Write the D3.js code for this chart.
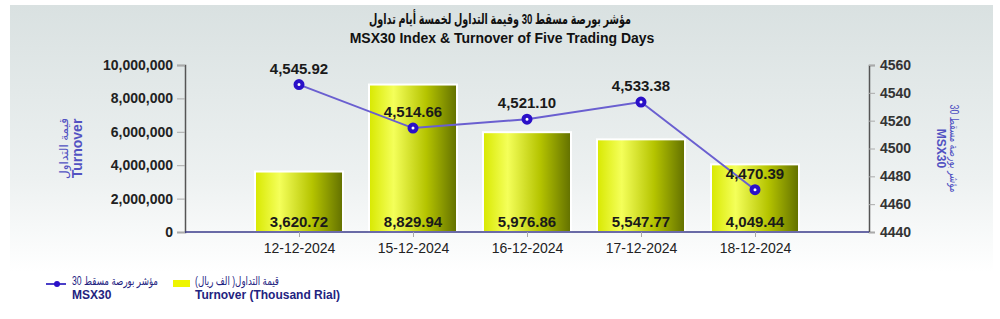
<!DOCTYPE html>
<html>
<head>
<meta charset="utf-8">
<script src="https://cdn.jsdelivr.net/npm/d3@7"></script>
<style>
  body { margin: 0; background: #fff; }
  svg { display: block; font-family: "Liberation Sans", "DejaVu Sans", sans-serif; }
</style>
</head>
<body>
<div class="chart"></div>
<script>
// Données du graphique
const dates = ['12-12-2024', '15-12-2024', '16-12-2024', '17-12-2024', '18-12-2024'];
const turnover = [3620720, 8829940, 5976860, 5547770, 4049440];
const turnoverLabels = ['3,620.72', '8,829.94', '5,976.86', '5,547.77', '4,049.44'];
const msx30 = [4545.92, 4514.66, 4521.10, 4533.38, 4470.39];
const leftTicks = [0, 2000000, 4000000, 6000000, 8000000, 10000000];
const rightTicks = [4440, 4460, 4480, 4500, 4520, 4540, 4560];

const width = 1000;
const height = 319;
const margin = { top: 65, right: 131, bottom: 87, left: 185 };

const svg = d3.select('.chart')
  .append('svg')
  .attr('width', width)
  .attr('height', height);

const defs = svg.append('defs');

// fond dégradé
const bg = defs.append('linearGradient')
  .attr('id', 'bg').attr('x1', 0).attr('y1', 0).attr('x2', 0).attr('y2', 1);
bg.append('stop').attr('offset', '0%').attr('stop-color', '#d9e1e1');
bg.append('stop').attr('offset', '55%').attr('stop-color', '#edf1f1');
bg.append('stop').attr('offset', '85%').attr('stop-color', '#ffffff');

// dégradé des barres
const barGrad = defs.append('linearGradient')
  .attr('id', 'bar').attr('x1', 0).attr('y1', 0).attr('x2', 1).attr('y2', 0);
barGrad.append('stop').attr('offset', '0%').attr('stop-color', '#d8e800');
barGrad.append('stop').attr('offset', '28%').attr('stop-color', '#f4ff5a');
barGrad.append('stop').attr('offset', '65%').attr('stop-color', '#b5c400');
barGrad.append('stop').attr('offset', '100%').attr('stop-color', '#627000');

svg.append('rect')
  .attr('x', 10).attr('y', 5)
  .attr('width', 983).attr('height', 314)
  .attr('fill', 'url(#bg)');

// Titres
svg.append('text')
  .attr('x', 500).attr('y', 24)
  .attr('text-anchor', 'middle')
  .attr('direction', 'rtl')
  .attr('textLength', 262).attr('lengthAdjust', 'spacingAndGlyphs')
  .style('font-size', '15px').style('font-weight', 'bold').style('fill', '#111')
  .text('مؤشر بورصة مسقط 30 وقيمة التداول لخمسة أيام تداول');
svg.append('text')
  .attr('x', 502).attr('y', 43)
  .attr('text-anchor', 'middle')
  .style('font-size', '14px').style('font-weight', 'bold').style('fill', '#111')
  .text('MSX30 Index & Turnover of Five Trading Days');

// Echelles
const x = d3.scalePoint()
  .domain(dates)
  .range([margin.left, width - margin.right])
  .padding(1);

const yLeft = d3.scaleLinear()
  .domain([0, 10000000])
  .range([height - margin.bottom, margin.top]);

const yRight = d3.scaleLinear()
  .domain([4440, 4560])
  .range([height - margin.bottom, margin.top]);

const barWidth = 88;

// Axe gauche
svg.append('g')
  .attr('transform', `translate(${margin.left}, 0)`)
  .call(d3.axisLeft(yLeft).tickValues(leftTicks).tickFormat(d3.format(',')).tickSize(8).tickPadding(4))
  .call(g => g.select('.domain').attr('stroke', '#555').attr('stroke-width', 1.5))
  .call(g => g.selectAll('.tick line').attr('stroke', '#aaa'))
  .call(g => g.selectAll('.tick text')
    .style('font-size', '14px').style('font-weight', 'bold').style('fill', '#222')
    .style('font-family', '"Liberation Sans", sans-serif'));

// Axe droit
svg.append('g')
  .attr('transform', `translate(${width - margin.right}, 0)`)
  .call(d3.axisRight(yRight).tickValues(rightTicks).tickFormat(d3.format('d')).tickSize(6).tickPadding(5))
  .call(g => g.select('.domain').attr('stroke', '#555').attr('stroke-width', 1.5))
  .call(g => g.selectAll('.tick line').attr('stroke', '#aaa'))
  .call(g => g.selectAll('.tick text')
    .style('font-size', '14px').style('font-weight', 'bold').style('fill', '#333')
    .style('font-family', '"Liberation Sans", sans-serif'));

// Barres
const bars = svg.append('g');
bars.selectAll('rect')
  .data(turnover)
  .join('rect')
    .attr('x', (d, i) => x(dates[i]) - barWidth / 2)
    .attr('y', d => yLeft(d))
    .attr('width', barWidth)
    .attr('height', d => yLeft(0) - yLeft(d))
    .attr('fill', 'url(#bar)')
    .attr('stroke', '#ffffff')
    .attr('stroke-width', 2);

bars.selectAll('text')
  .data(turnoverLabels)
  .join('text')
    .attr('x', (d, i) => x(dates[i]))
    .attr('y', yLeft(0) - 5)
    .attr('text-anchor', 'middle')
    .style('font-size', '15px').style('font-weight', 'bold').style('fill', '#1a1a1a')
    .text(d => d);

// Axe horizontal
svg.append('g')
  .attr('transform', `translate(0, ${height - margin.bottom})`)
  .call(d3.axisBottom(x).tickSize(5).tickPadding(6))
  .call(g => g.select('.domain').attr('stroke', '#3a3a8a').attr('stroke-width', 1.5).attr('d', `M${margin.left},0H${width - margin.right}`))
  .call(g => g.selectAll('.tick line').attr('stroke', '#aaa'))
  .call(g => g.selectAll('.tick text')
    .style('font-size', '14px').style('fill', '#222')
    .style('font-family', '"Liberation Sans", sans-serif'));

// Ligne MSX30
const line = d3.line()
  .x((d, i) => x(dates[i]))
  .y(d => yRight(d));

const lineG = svg.append('g');
lineG.append('path')
  .datum(msx30)
  .attr('d', line)
  .attr('fill', 'none')
  .attr('stroke', '#6a5fd0')
  .attr('stroke-width', 2);

lineG.selectAll('circle')
  .data(msx30)
  .join('circle')
    .attr('cx', (d, i) => x(dates[i]))
    .attr('cy', d => yRight(d))
    .attr('r', 3.5)
    .attr('fill', '#ffffff')
    .attr('stroke', '#2a10c8')
    .attr('stroke-width', 4);

lineG.selectAll('text')
  .data(msx30)
  .join('text')
    .attr('x', (d, i) => x(dates[i]))
    .attr('y', d => yRight(d) - 11)
    .attr('text-anchor', 'middle')
    .style('font-size', '15px').style('font-weight', 'bold').style('fill', '#1a1a1a')
    .text(d => d3.format(',.2f')(d));

// Titres des axes
const axisColor = '#5252c2';
const leftTitle = svg.append('g')
  .attr('transform', `translate(70, ${(yLeft(0) + yLeft(10000000)) / 2}) rotate(-90)`)
  .attr('text-anchor', 'middle')
  .style('fill', axisColor);
leftTitle.append('text').attr('y', -2).attr('direction', 'rtl')
  .style('font-size', '12px').text('قيمة التداول');
leftTitle.append('text').attr('y', 12)
  .style('font-size', '14px').style('font-weight', 'bold').text('Turnover');

const rightTitle = svg.append('g')
  .attr('transform', `translate(948, ${(yRight(4440) + yRight(4560)) / 2}) rotate(90)`)
  .attr('text-anchor', 'middle')
  .style('fill', axisColor);
rightTitle.append('text').attr('y', -2).attr('direction', 'rtl')
  .attr('textLength', 88).attr('lengthAdjust', 'spacingAndGlyphs')
  .style('font-size', '12px').text('مؤشر بورصة مسقط 30');
rightTitle.append('text').attr('y', 11)
  .style('font-size', '12px').style('font-weight', 'bold').text('MSX30');

// Légende (texte arabe : direction rtl, 'end' = bord gauche)
const legendColor = '#23237f';
const legend = svg.append('g').style('fill', legendColor);
legend.append('line')
  .attr('x1', 46).attr('x2', 66).attr('y1', 284).attr('y2', 284)
  .attr('stroke', '#4a3fc8').attr('stroke-width', 2);
legend.append('circle')
  .attr('cx', 57).attr('cy', 284).attr('r', 3)
  .attr('fill', '#2a10c8');
legend.append('text').attr('x', 72).attr('y', 285).attr('text-anchor', 'end').attr('direction', 'rtl')
  .attr('textLength', 86).attr('lengthAdjust', 'spacingAndGlyphs')
  .style('font-size', '12px').text('مؤشر بورصة مسقط 30');
legend.append('text').attr('x', 72).attr('y', 299)
  .style('font-size', '12px').style('font-weight', 'bold').text('MSX30');

legend.append('rect')
  .attr('x', 173).attr('y', 280).attr('width', 17).attr('height', 7)
  .attr('fill', '#eef500');
legend.append('text').attr('x', 195).attr('y', 285).attr('text-anchor', 'end').attr('direction', 'rtl')
  .attr('textLength', 84).attr('lengthAdjust', 'spacingAndGlyphs')
  .style('font-size', '12px').text('قيمة التداول( الف ريال)');
legend.append('text').attr('x', 195).attr('y', 299)
  .style('font-size', '12px').style('font-weight', 'bold').text('Turnover (Thousand Rial)');
</script>
</body>
</html>
